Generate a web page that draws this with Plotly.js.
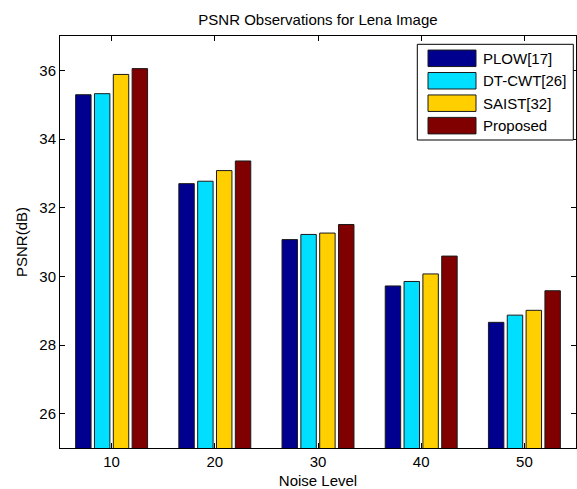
<!DOCTYPE html>
<html><head><meta charset="utf-8">
<script src="https://cdn.plot.ly/plotly-3.0.1.min.js"></script>
<style>html,body{margin:0;padding:0;background:#fff}#chart{width:577px;height:489px}</style>
</head><body><div id="chart"></div>
<script>
// ---- data ----
const noiseLevels = [10, 20, 30, 40, 50];
const tickLabels = ['10', '20', '30', '40', '50'];
const yTicks = [26, 28, 30, 32, 34, 36];
const seriesNames = ['PLOW[17]', 'DT-CWT[26]', 'SAIST[32]', 'Proposed'];
const plow = [35.29, 32.70, 31.07, 29.72, 28.66];
const dtcwt = [35.32, 32.77, 31.22, 29.85, 28.87];
const saist = [35.88, 33.08, 31.26, 30.07, 29.01];
const proposed = [36.05, 33.36, 31.51, 30.59, 29.58];
const seriesValues = [plow, dtcwt, saist, proposed];
const seriesColors = ['#00008F', '#00DFFF', '#FFCF00', '#800000'];

// ---- geometry / style ----
const W = 577, H = 489;
const M = {l: 60, r: 1, t: 36, b: 41};
const pw = W - M.l - M.r, ph = H - M.t - M.b;
const px2x = p => (p - M.l) / pw;
const px2y = p => (H - M.b - p) / ph;
const FONT = 'Liberation Sans, Arial, Helvetica, sans-serif';

const traces = seriesNames.map((name, i) => ({
  type: 'bar',
  name: name,
  x: noiseLevels,
  y: seriesValues[i],
  marker: {color: seriesColors[i], line: {color: '#1a1a1a', width: 1}},
  showlegend: false,
  hoverinfo: 'x+y+name'
}));

// custom MATLAB-like legend
const shapes = [];
const annotations = [];
const lg = {x0: 417.3, x1: 573.3, y0: 44.3, y1: 140, swX0: 428, swX1: 476, row0: 58.3, pitch: 22.45, swH: 16.5, textX: 480.5};
shapes.push({type: 'rect', xref: 'paper', yref: 'paper', layer: 'above',
  x0: px2x(lg.x0), x1: px2x(lg.x1), y0: px2y(lg.y1), y1: px2y(lg.y0),
  line: {color: '#000', width: 1}, fillcolor: '#fff'});
seriesNames.forEach((name, i) => {
  const cy = lg.row0 + i * lg.pitch;
  shapes.push({type: 'rect', xref: 'paper', yref: 'paper', layer: 'above',
    x0: px2x(lg.swX0), x1: px2x(lg.swX1), y0: px2y(cy + lg.swH / 2), y1: px2y(cy - lg.swH / 2),
    line: {color: '#1a1a1a', width: 1}, fillcolor: seriesColors[i]});
  annotations.push({xref: 'paper', yref: 'paper', x: px2x(lg.textX), y: px2y(cy),
    xanchor: 'left', yanchor: 'middle', text: name, showarrow: false,
    font: {family: FONT, size: 15, color: '#000'}});
});

const axisCommon = {
  showline: true, linecolor: '#000', linewidth: 1, mirror: 'ticks',
  ticks: 'inside', ticklen: 5, tickcolor: '#000', tickwidth: 1,
  showgrid: false, zeroline: false, fixedrange: true,
  tickfont: {family: FONT, size: 15, color: '#000'}
};

const layout = {
  width: W, height: H,
  margin: M,
  paper_bgcolor: '#fff', plot_bgcolor: '#fff',
  font: {family: FONT, size: 15, color: '#000'},
  title: {text: 'PSNR Observations for Lena Image', font: {family: FONT, size: 15, color: '#000'},
    xref: 'paper', x: 0.5, xanchor: 'center', yref: 'container', y: 1 - 20 / H, yanchor: 'middle'},
  barmode: 'group', bargap: 0.27, bargroupgap: 0.18,
  xaxis: Object.assign({}, axisCommon, {
    range: [5, 55], tickmode: 'array', tickvals: noiseLevels, ticktext: tickLabels,
    title: {text: 'Noise Level', font: {family: FONT, size: 15, color: '#000'}, standoff: 6}
  }),
  yaxis: Object.assign({}, axisCommon, {
    range: [25, 37], tickmode: 'array', tickvals: yTicks, ticktext: yTicks.map(String),
    title: {text: 'PSNR(dB)', font: {family: FONT, size: 15, color: '#000'}, standoff: 8}
  }),
  shapes: shapes,
  annotations: annotations,
  showlegend: false
};

Plotly.newPlot('chart', traces, layout, {displayModeBar: false, staticPlot: false});
</script>
</body></html>
